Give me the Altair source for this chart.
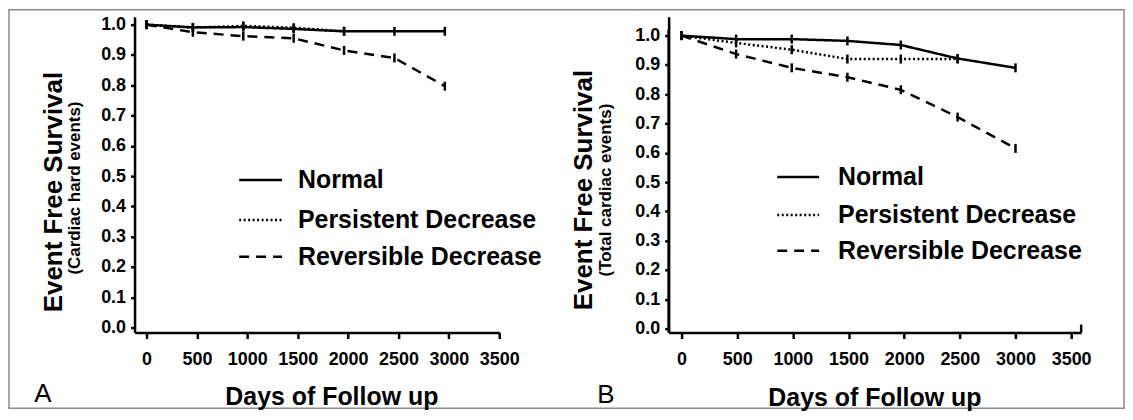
import altair as alt
import pandas as pd

GROUPS = ["Normal", "Persistent Decrease", "Reversible Decrease"]
DASHES = [[1, 0], [2, 2.5], [10, 7]]

# Panel A: cardiac hard events
A_NORMAL_DAYS = [0, 460, 960, 1460, 1960, 2460, 2960]
A_NORMAL_SURV = [1.0, 0.991, 0.992, 0.986, 0.978, 0.978, 0.978]
A_PERSIST_DAYS = [0, 460, 960, 1460, 1960]
A_PERSIST_SURV = [1.0, 0.99, 0.996, 0.99, 0.978]
A_REVERS_DAYS = [0, 460, 960, 1460, 1960, 2460, 2960]
A_REVERS_SURV = [1.0, 0.975, 0.962, 0.955, 0.915, 0.89, 0.797]

# Panel B: total cardiac events
B_NORMAL_DAYS = [0, 490, 990, 1490, 1970, 2480, 3000]
B_NORMAL_SURV = [1.0, 0.988, 0.988, 0.982, 0.968, 0.922, 0.89]
B_PERSIST_DAYS = [0, 490, 990, 1490, 1970, 2480]
B_PERSIST_SURV = [1.0, 0.975, 0.952, 0.92, 0.92, 0.92]
B_REVERS_DAYS = [0, 490, 990, 1490, 1970, 2480, 3000]
B_REVERS_SURV = [1.0, 0.937, 0.89, 0.858, 0.815, 0.722, 0.615]

X_TICKS = [0, 500, 1000, 1500, 2000, 2500, 3000, 3500]
Y_TICKS = [round(i * 0.1, 1) for i in range(11)]

FONT = "Liberation Sans"
dash_scale = alt.Scale(domain=GROUPS, range=DASHES)


def frame(days_surv):
    rows = []
    for g, (d, s) in zip(GROUPS, days_surv):
        for dd, ss in zip(d, s):
            rows.append({"group": g, "day": dd, "surv": ss})
    return pd.DataFrame(rows)


def txt(s, x, y, size, weight="bold", angle=0, align="center"):
    return alt.Chart(pd.DataFrame({"t": [s]})).mark_text(
        font=FONT, fontSize=size, fontWeight=weight, angle=angle,
        align=align, baseline="middle", color="black"
    ).encode(text="t:N", x=alt.value(x), y=alt.value(y))


def legend_row(name, x0, x1, xt, y):
    r = alt.Chart(pd.DataFrame({"group": [name]})).mark_rule(
        strokeWidth=2.5, color="black"
    ).encode(
        x=alt.value(x0), x2=alt.value(x1), y=alt.value(y),
        strokeDash=alt.StrokeDash("group:N", scale=dash_scale, legend=None),
    )
    return r + txt(name, xt, y, 25, align="left")


def rule(x, x2, y, y2, color="black", width=2.5):
    return alt.Chart(pd.DataFrame({"r": [0]})).mark_rule(
        color=color, strokeWidth=width
    ).encode(x=alt.value(x), x2=alt.value(x2), y=alt.value(y), y2=alt.value(y2))


def panel(df, xdom, ydom, w, h):
    x = alt.X("day:Q", scale=alt.Scale(domain=xdom, nice=False, zero=False),
              axis=alt.Axis(values=X_TICKS, title=None, format="d",
                            labelOverlap=False, labelFlush=False))
    y = alt.Y("surv:Q", scale=alt.Scale(domain=ydom, nice=False, zero=False),
              axis=alt.Axis(values=Y_TICKS, title=None, format=".1f",
                            labelOverlap=False, labelFlush=False))
    base = alt.Chart(df)
    lines = base.mark_line(color="black", strokeWidth=2.5).encode(
        x=x, y=y, detail="group:N",
        strokeDash=alt.StrokeDash("group:N", scale=dash_scale, legend=None),
    )
    ticks = base.mark_tick(orient="vertical", size=9, thickness=2.5,
                           color="black", opacity=1).encode(x=x, y=y)
    return lines, ticks


df_a = frame([(A_NORMAL_DAYS, A_NORMAL_SURV), (A_PERSIST_DAYS, A_PERSIST_SURV),
              (A_REVERS_DAYS, A_REVERS_SURV)])
df_b = frame([(B_NORMAL_DAYS, B_NORMAL_SURV), (B_PERSIST_DAYS, B_PERSIST_SURV),
              (B_REVERS_DAYS, B_REVERS_SURV)])

WA, HA = 366, 317
WB, HB = 414, 317

la, ta = panel(df_a, [-119, 3500], [-0.0165, 1.0263], WA, HA)
border = alt.Chart(pd.DataFrame({"f": [0]})).mark_rect(
    fill="white", fillOpacity=0, stroke="#8a8a8a", strokeWidth=1.5
).encode(x=alt.value(-126), x2=alt.value(993), y=alt.value(-7), y2=alt.value(393))

chart_a = alt.layer(
    border, la, ta,
    txt("Event Free Survival", -81, 176, 26, angle=270),
    txt("(Cardiac hard events)", -60, 172, 17, angle=270),
    txt("Days of Follow up", 198, 382, 25),
    txt("A", -92, 379, 26, weight="normal"),
    legend_row(GROUPS[0], 105, 148, 164, 164),
    legend_row(GROUPS[1], 105, 148, 164, 204),
    legend_row(GROUPS[2], 105, 148, 164, 241),
).properties(width=WA, height=HA)

lb, tb = panel(df_b, [-116, 3590], [-0.0136, 1.0646], WB, HB)
chart_b = alt.layer(
    lb, tb,
    rule(0, 0, 13, HB),
    rule(WB, WB, HB - 8, HB),
    txt("Event Free Survival", -85, 174, 26, angle=270),
    txt("(Total cardiac events)", -63, 174, 17, angle=270),
    txt("Days of Follow up", 207, 383, 25),
    txt("B", -63, 380, 26, weight="normal"),
    legend_row(GROUPS[0], 109, 151, 170, 161),
    legend_row(GROUPS[1], 109, 151, 170, 199),
    legend_row(GROUPS[2], 109, 151, 170, 235),
).properties(width=WB, height=HB)

chart = alt.hconcat(chart_a, chart_b, spacing=170, bounds="flush").properties(
    padding=0
).configure_view(stroke=None).configure_axis(
    domainColor="black", domainWidth=2.5, tickColor="black", tickWidth=2.5,
    labelFont=FONT, labelFontWeight="bold", labelFontSize=18, labelColor="black",
    grid=False,
).configure_axisX(tickSize=6, labelPadding=12).configure_axisY(
    tickSize=4, labelPadding=5, domain=True
)

chart.save("out.html", embed_options={"renderer": "svg", "actions": False})
